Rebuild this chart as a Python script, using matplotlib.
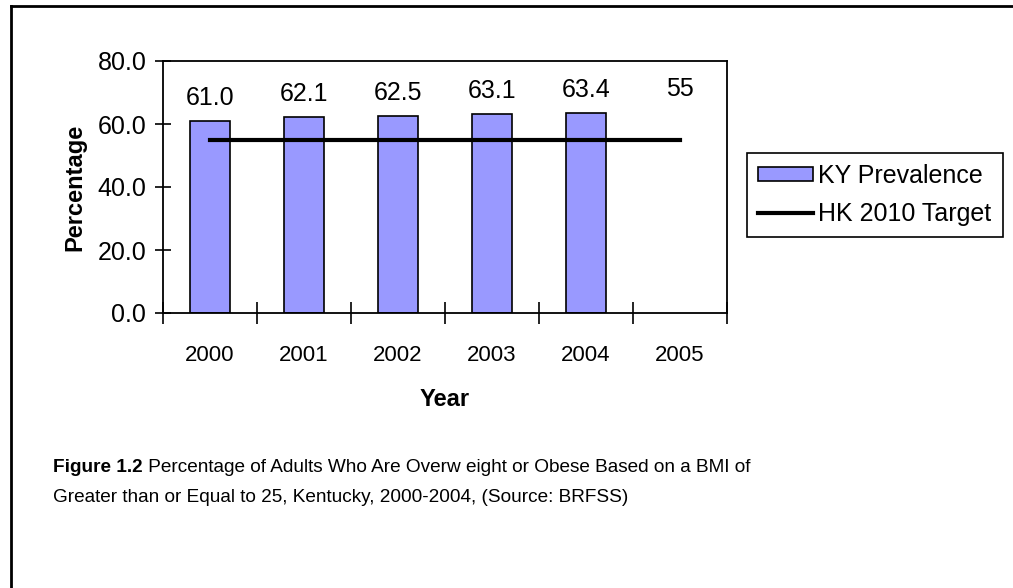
import matplotlib
matplotlib.use('Agg')
import matplotlib.pyplot as plt
from matplotlib.lines import Line2D
from matplotlib.patches import Patch

years = ['2000', '2001', '2002', '2003', '2004', '2005']
ky_prevalence = [61.0, 62.1, 62.5, 63.1, 63.4]
hk_target = [55, 55, 55, 55, 55, 55]

plt.rcParams['font.family'] = ['Liberation Sans', 'DejaVu Sans']

W, H = 1013, 588
fig = plt.figure(figsize=(W / 100, H / 100), dpi=100)
ax = fig.add_axes([163 / W, 1 - 313 / H, (727 - 163) / W, (313 - 61) / H])

x = list(range(len(years)))
ax.bar(x[:len(ky_prevalence)], ky_prevalence, width=0.42, color='#9999ff',
       edgecolor='black', linewidth=1.2, zorder=2)
ax.plot(x, hk_target, color='black', linewidth=3, zorder=3)

for i, v in enumerate(ky_prevalence):
    ax.annotate('{:.1f}'.format(v), (i, v), xytext=(0, 8), textcoords='offset points',
                ha='center', va='bottom', fontsize=18)
ax.annotate('{}'.format(hk_target[-1]), (x[-1], hk_target[-1]), xytext=(0, 28),
            textcoords='offset points', ha='center', va='bottom', fontsize=18)

ax.set_xlim(-0.5, len(years) - 0.5)
ax.set_ylim(0, 80)
ax.set_yticks([0, 20, 40, 60, 80])
ax.set_yticklabels(['{:.1f}'.format(t) for t in [0, 20, 40, 60, 80]], fontsize=18)
ax.set_xticks([i - 0.5 for i in range(len(years) + 1)])
ax.set_xticklabels([])
ax.set_xticks(x, minor=True)
ax.set_xticklabels(years, minor=True, fontsize=16)
ax.tick_params(axis='x', which='major', direction='inout', length=16, width=1.2)
ax.tick_params(axis='x', which='minor', length=0, pad=23)
ax.tick_params(axis='y', direction='inout', length=12, width=1.2, pad=6)
for s in ax.spines.values():
    s.set_linewidth(1.3)

ax.set_ylabel('Percentage', fontsize=17, fontweight='bold', labelpad=8)
ax.set_xlabel('Year', fontsize=17, fontweight='bold', labelpad=16)

handles = [Patch(facecolor='#9999ff', edgecolor='black', linewidth=1.2),
           Line2D([0], [0], color='black', linewidth=3)]
leg = fig.legend(handles, ['KY Prevalence', 'HK 2010 Target'], loc='center',
                 bbox_to_anchor=(875 / W, 1 - 195 / H), fontsize=18, frameon=True,
                 fancybox=False, framealpha=1, handlelength=2.2, handleheight=0.5,
                 handletextpad=0.2, borderpad=0.45, labelspacing=0.55, borderaxespad=0)
leg.get_frame().set_edgecolor('black')
leg.get_frame().set_linewidth(1.2)

fig_label = fig.text(53 / W, 1 - 468 / H, 'Figure 1.2', fontsize=13.7, fontweight='bold',
                     va='center')
fig.add_artist(plt.Annotation(
    ' Percentage of Adults Who Are Overw eight or Obese Based on a BMI of',
    xy=(1, 0.5), xycoords=fig_label, va='center', ha='left', fontsize=13.7))
fig.text(53 / W, 1 - 497 / H,
         'Greater than or Equal to 25, Kentucky, 2000-2004, (Source: BRFSS)',
         fontsize=13.7, va='center')

fig.add_artist(Line2D([11 / W, 1], [1 - 5.5 / H, 1 - 5.5 / H], color='black', linewidth=2,
                      transform=fig.transFigure))
fig.add_artist(Line2D([11 / W, 11 / W], [1 - 5.5 / H, 0], color='black', linewidth=2,
                      transform=fig.transFigure))

fig.savefig('out.png', dpi=100)
